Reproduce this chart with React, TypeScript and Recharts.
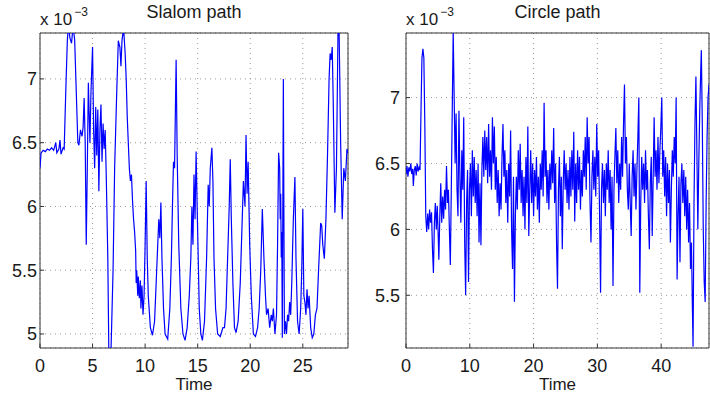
import { LineChart, Line, XAxis, YAxis, CartesianGrid, ReferenceArea } from 'recharts'

// time (s), value (x 1e-3)
const slalomPath: [number, number][] = [
  [0, 6.3], [0.1, 6.42], [0.3, 6.44], [0.5, 6.43], [0.7, 6.45], [0.9, 6.44], [1.1, 6.46], [1.3, 6.44],
  [1.5, 6.5], [1.6, 6.42], [1.8, 6.45], [1.9, 6.52], [2.0, 6.41], [2.2, 6.46], [2.3, 6.45], [2.45, 6.9],
  [2.6, 7.3], [2.7, 7.42], [2.85, 7.32], [3.0, 7.28], [3.15, 7.42], [3.3, 7.3], [3.45, 6.9], [3.6, 6.5],
  [3.7, 6.48], [3.85, 6.6], [4.0, 6.55], [4.1, 6.62], [4.2, 6.85], [4.3, 6.5], [4.4, 5.7], [4.5, 6.3],
  [4.6, 6.97], [4.75, 6.5], [4.85, 6.9], [5.0, 7.25], [5.1, 6.6], [5.2, 6.3], [5.3, 6.78], [5.4, 6.4],
  [5.5, 6.76], [5.6, 6.12], [5.7, 6.6], [5.8, 6.8], [5.9, 6.35], [6.0, 6.65], [6.1, 6.45], [6.2, 6.6],
  [6.3, 6.25], [6.45, 5.6], [6.55, 4.85], [6.75, 4.85], [6.95, 5.5], [7.1, 6.3], [7.3, 6.9], [7.45, 7.3],
  [7.6, 7.25], [7.7, 7.1], [7.8, 7.3], [7.95, 7.4], [8.1, 7.2], [8.2, 7.0], [8.3, 6.7], [8.4, 6.5],
  [8.5, 6.3], [8.6, 6.2], [8.7, 6.25], [8.8, 6.05], [8.9, 5.9], [9.0, 5.8], [9.1, 5.65], [9.15, 5.4],
  [9.2, 5.5], [9.3, 5.3], [9.35, 5.45], [9.45, 5.28], [9.55, 5.42], [9.6, 5.2], [9.7, 5.38], [9.8, 5.15],
  [9.9, 5.3], [10.0, 5.7], [10.1, 6.2], [10.2, 5.6], [10.3, 5.3], [10.5, 5.05], [10.7, 4.99], [10.9, 5.1],
  [11.1, 5.5], [11.3, 5.9], [11.4, 5.75], [11.5, 6.03], [11.6, 5.6], [11.75, 5.2], [11.9, 5.0], [12.15, 4.96],
  [12.35, 5.2], [12.5, 5.6], [12.6, 6.0], [12.7, 6.35], [12.8, 6.3], [12.95, 7.15], [13.05, 6.4], [13.2, 5.7],
  [13.4, 5.2], [13.6, 5.0], [13.8, 4.95], [14.0, 5.05], [14.2, 5.3], [14.35, 5.6], [14.45, 6.0], [14.55, 5.7],
  [14.65, 6.25], [14.75, 5.9], [14.85, 6.43], [14.95, 6.0], [15.05, 5.6], [15.15, 5.2], [15.3, 5.0], [15.45, 4.95],
  [15.65, 5.1], [15.85, 5.6], [16.0, 6.17], [16.1, 6.0], [16.2, 6.3], [16.35, 6.46], [16.45, 6.2], [16.55, 5.6],
  [16.7, 5.2], [16.9, 5.0], [17.15, 4.98], [17.4, 5.05], [17.55, 5.05], [17.7, 5.2], [17.85, 5.6], [18.0, 6.0],
  [18.1, 6.37], [18.2, 5.9], [18.35, 5.4], [18.5, 5.05], [18.65, 5.01], [18.85, 5.1], [19.05, 5.4], [19.2, 5.8],
  [19.35, 6.2], [19.5, 6.0], [19.6, 6.56], [19.7, 6.1], [19.8, 6.35], [19.95, 5.7], [20.1, 5.3], [20.3, 5.0],
  [20.5, 4.98], [20.7, 5.05], [20.85, 5.2], [21.0, 5.5], [21.15, 5.98], [21.3, 5.6], [21.45, 5.3], [21.55, 5.15],
  [21.7, 5.2], [21.85, 5.05], [22.0, 5.15], [22.1, 5.1], [22.2, 5.2], [22.35, 5.0], [22.5, 5.15], [22.6, 5.7],
  [22.7, 6.42], [22.8, 6.3], [22.85, 5.9], [22.9, 6.1], [22.95, 5.6], [23.0, 5.8], [23.05, 4.97], [23.15, 7.0],
  [23.25, 5.0], [23.35, 5.1], [23.45, 5.0], [23.55, 5.15], [23.65, 5.1], [23.75, 5.25], [23.85, 5.15], [23.95, 5.4],
  [24.1, 5.9], [24.25, 6.23], [24.35, 5.6], [24.5, 5.1], [24.65, 5.0], [24.8, 5.2], [24.9, 5.5], [25.0, 5.98],
  [25.1, 5.3], [25.2, 5.25], [25.3, 5.15], [25.4, 5.35], [25.5, 5.2], [25.6, 5.3], [25.75, 5.05], [25.9, 4.97],
  [26.05, 5.0], [26.2, 5.15], [26.35, 5.2], [26.5, 5.5], [26.7, 5.87], [26.8, 5.85], [26.9, 5.7], [27.05, 5.59],
  [27.2, 5.9], [27.35, 6.4], [27.5, 7.0], [27.6, 7.2], [27.7, 7.15], [27.8, 7.25], [27.9, 6.8], [28.05, 5.95],
  [28.2, 6.3], [28.35, 7.38], [28.45, 7.4], [28.6, 6.5], [28.75, 5.9], [28.9, 6.3], [29.05, 6.2], [29.2, 6.45],
  [29.3, 6.42],
]

const circlePath: [number, number][] = [
  [0, 6.42], [0.15, 6.48], [0.3, 6.4], [0.45, 6.47], [0.6, 6.44], [0.75, 6.5], [0.9, 6.42], [1.05, 6.46],
  [1.15, 6.33], [1.3, 6.45], [1.45, 6.48], [1.6, 6.41], [1.75, 6.5], [1.9, 6.44], [2.05, 6.47], [2.2, 6.45],
  [2.35, 6.9], [2.5, 7.3], [2.65, 7.37], [2.8, 7.3], [2.95, 6.8], [3.1, 6.1], [3.25, 5.98], [3.4, 6.12],
  [3.55, 6.0], [3.7, 6.15], [3.85, 6.05], [4.0, 6.13], [4.15, 5.85], [4.3, 5.67], [4.45, 6.05], [4.6, 6.2],
  [4.75, 6.0], [4.9, 6.18], [5.05, 5.95], [5.15, 5.77], [5.3, 6.1], [5.45, 6.35], [5.6, 6.05], [5.75, 6.25],
  [5.9, 6.08], [6.05, 6.3], [6.2, 6.15], [6.35, 6.48], [6.5, 6.2], [6.65, 6.3], [6.8, 6.0], [6.95, 5.73],
  [7.1, 6.3], [7.25, 6.9], [7.4, 7.5], [7.55, 7.0], [7.7, 6.5], [7.85, 6.88], [8.0, 6.3], [8.15, 6.1],
  [8.3, 6.9], [8.45, 6.4], [8.6, 6.05], [8.75, 6.6], [8.9, 6.3], [9.05, 6.85], [9.2, 5.9], [9.35, 5.5],
  [9.5, 6.2], [9.65, 6.45], [9.8, 5.6], [9.95, 6.3], [10.1, 6.5], [10.25, 6.1], [10.4, 6.6], [10.55, 6.25],
  [10.7, 6.55], [10.85, 6.2], [11.0, 6.45], [11.15, 6.1], [11.3, 6.5], [11.45, 5.9], [11.6, 6.35], [11.75, 5.88],
  [11.9, 6.45], [12.05, 6.7], [12.2, 6.4], [12.35, 6.75], [12.5, 6.45], [12.65, 6.7], [12.8, 6.35], [12.95, 6.8],
  [13.1, 6.4], [13.25, 6.6], [13.4, 6.3], [13.55, 6.85], [13.7, 6.5], [13.85, 6.78], [14.0, 6.3], [14.15, 6.55],
  [14.3, 6.2], [14.45, 6.45], [14.6, 6.1], [14.75, 6.35], [14.9, 6.15], [15.05, 6.55], [15.2, 6.8], [15.35, 6.4],
  [15.5, 6.6], [15.65, 6.2], [15.8, 6.45], [15.95, 6.05], [16.1, 6.5], [16.25, 6.25], [16.4, 6.75], [16.55, 6.0],
  [16.7, 5.7], [16.85, 6.4], [17.0, 5.45], [17.15, 6.1], [17.3, 6.4], [17.45, 6.15], [17.6, 6.6], [17.75, 6.3],
  [17.9, 6.65], [18.05, 6.2], [18.2, 6.45], [18.35, 6.1], [18.5, 6.4], [18.65, 6.0], [18.8, 6.55], [18.95, 6.2],
  [19.1, 6.78], [19.25, 5.95], [19.4, 6.3], [19.55, 6.6], [19.7, 6.2], [19.85, 6.5], [20.0, 6.1], [20.15, 6.45],
  [20.3, 6.25], [20.45, 6.55], [20.6, 6.15], [20.75, 6.4], [20.9, 6.05], [21.05, 6.5], [21.2, 6.3], [21.35, 6.6],
  [21.5, 6.25], [21.65, 6.96], [21.8, 6.4], [21.95, 6.6], [22.1, 6.2], [22.25, 6.45], [22.4, 6.15], [22.55, 6.5],
  [22.7, 6.3], [22.85, 6.6], [23.0, 6.35], [23.15, 6.77], [23.3, 6.2], [23.45, 6.5], [23.6, 5.9], [23.75, 5.55],
  [23.9, 6.3], [24.05, 6.55], [24.2, 6.1], [24.35, 6.4], [24.5, 5.85], [24.65, 6.35], [24.8, 6.6], [24.95, 6.3],
  [25.1, 6.5], [25.25, 6.2], [25.4, 6.45], [25.55, 6.15], [25.7, 6.55], [25.85, 6.25], [26.0, 6.6], [26.15, 6.3],
  [26.3, 6.74], [26.45, 6.06], [26.6, 6.5], [26.75, 6.2], [26.9, 6.6], [27.05, 6.3], [27.2, 6.55], [27.35, 6.15],
  [27.5, 6.45], [27.65, 6.25], [27.8, 6.6], [27.95, 6.4], [28.1, 6.7], [28.25, 6.3], [28.4, 6.85], [28.55, 6.5],
  [28.7, 6.7], [28.85, 6.2], [29.0, 5.9], [29.15, 6.4], [29.3, 6.6], [29.45, 6.3], [29.6, 6.55], [29.75, 6.25],
  [29.9, 6.8], [30.05, 6.4], [30.2, 6.6], [30.35, 6.1], [30.5, 5.52], [30.65, 6.3], [30.8, 6.5], [30.95, 6.2],
  [31.1, 6.45], [31.25, 6.1], [31.4, 6.5], [31.55, 6.3], [31.7, 6.6], [31.85, 6.2], [32.0, 6.45], [32.15, 6.0],
  [32.3, 6.4], [32.45, 5.57], [32.6, 6.3], [32.75, 6.55], [32.9, 6.77], [33.05, 6.35], [33.2, 6.6], [33.35, 6.2],
  [33.5, 6.5], [33.65, 6.3], [33.8, 6.7], [33.95, 6.4], [34.1, 6.8], [34.25, 7.1], [34.4, 6.5], [34.55, 6.7],
  [34.7, 6.3], [34.85, 6.15], [35.0, 6.5], [35.15, 6.2], [35.3, 5.95], [35.45, 6.4], [35.6, 6.6], [35.75, 6.25],
  [35.9, 6.5], [36.05, 6.15], [36.2, 6.45], [36.35, 6.7], [36.5, 7.0], [36.65, 5.52], [36.8, 6.2], [36.95, 6.55],
  [37.1, 6.3], [37.25, 6.5], [37.4, 6.2], [37.55, 6.6], [37.7, 6.3], [37.85, 6.45], [38.0, 6.1], [38.15, 5.85],
  [38.3, 6.35], [38.45, 6.55], [38.6, 5.95], [38.75, 6.4], [38.9, 6.85], [39.05, 6.4], [39.2, 6.6], [39.35, 6.3],
  [39.5, 6.7], [39.65, 6.35], [39.8, 6.6], [39.95, 6.77], [40.1, 7.0], [40.25, 6.4], [40.4, 6.6], [40.55, 6.25],
  [40.7, 6.55], [40.85, 6.1], [41.0, 6.5], [41.15, 6.2], [41.3, 6.45], [41.45, 5.9], [41.6, 6.3], [41.75, 6.6],
  [41.9, 6.4], [42.05, 6.7], [42.2, 6.5], [42.35, 7.0], [42.5, 5.62], [42.65, 6.1], [42.8, 6.4], [42.95, 5.75],
  [43.1, 6.35], [43.25, 6.5], [43.4, 6.2], [43.55, 6.45], [43.7, 6.1], [43.85, 6.4], [44.0, 6.0], [44.15, 6.3],
  [44.3, 5.9], [44.45, 6.2], [44.6, 5.7], [44.75, 5.9], [44.9, 5.4], [45.0, 5.11], [45.15, 6.2], [45.3, 6.8],
  [45.45, 7.16], [45.6, 6.6], [45.75, 6.0], [45.9, 6.5], [46.05, 6.9], [46.2, 7.2], [46.3, 7.36], [46.45, 6.8],
  [46.6, 6.0], [46.75, 5.6], [46.9, 5.45], [47.05, 6.2], [47.2, 6.7], [47.35, 7.0], [47.5, 7.1],
]

const slalomXTicks = [0, 5, 10, 15, 20, 25]
const circleXTicks = [0, 10, 20, 30, 40]
const slalomYTicks = [5, 5.5, 6, 6.5, 7]
const circleYTicks = [5.5, 6, 6.5, 7]

const font = '"Liberation Sans", Arial, Helvetica, sans-serif'
const ink = '#1a1a1a'

type PanelProps = {
  title: string
  points: [number, number][]
  xTicks: number[]
  yTicks: number[]
  xMax: number
  yMin: number
  yMax: number
  left: number
  width: number
  axisWidth: number
  rightGap: number
  yTickGap: number
}

function Panel({ title, points, xTicks, yTicks, xMax, yMin, yMax, left, width, axisWidth, rightGap, yTickGap }: PanelProps) {
  const rows = points.map(([t, v]) => ({ t, v }))
  const plotWidth = width - axisWidth - rightGap
  const tickStyle = { fill: ink, fontSize: 18, fontFamily: font }

  return (
    <div style={{ position: 'absolute', left, top: 0, width, height: 398 }}>
      <LineChart width={width} height={398} data={rows} margin={{ top: 33, right: rightGap, bottom: 8, left: 0 }}>
        <CartesianGrid stroke="#9a9a9a" strokeDasharray="1 4" />
        <XAxis
          dataKey="t"
          type="number"
          domain={[0, xMax]}
          ticks={xTicks}
          interval={0}
          allowDataOverflow
          axisLine={false}
          tickSize={-4}
          tickMargin={15}
          tickLine={{ stroke: '#333' }}
          tick={tickStyle}
          height={42}
          label={{ value: 'Time', position: 'insideBottom', offset: 0, fill: ink, fontSize: 17, fontFamily: font }}
        />
        <YAxis
          type="number"
          domain={[yMin, yMax]}
          ticks={yTicks}
          interval={0}
          allowDataOverflow
          axisLine={false}
          tickSize={-4}
          tickMargin={yTickGap}
          tickLine={{ stroke: '#333' }}
          tick={tickStyle}
          width={axisWidth}
        />
        <Line type="linear" dataKey="v" stroke="#0000ff" strokeWidth={1.2} dot={false} isAnimationActive={false} />
        <ReferenceArea x1={0} x2={xMax} y1={yMin} y2={yMax} fill="none" stroke="#333" strokeWidth={1} ifOverflow="visible" />
      </LineChart>
      <div
        style={{
          position: 'absolute', left: axisWidth, top: 2, width: plotWidth, textAlign: 'center',
          fontFamily: font, fontSize: 18, lineHeight: '20px', color: ink,
        }}
      >
        {title}
      </div>
      <div
        style={{
          position: 'absolute', left: axisWidth, top: 11, fontFamily: font, fontSize: 17,
          lineHeight: '17px', color: ink, whiteSpace: 'nowrap',
        }}
      >
        x 10<span style={{ position: 'relative', top: -9, fontSize: 12, marginLeft: 2 }}>−3</span>
      </div>
    </div>
  )
}

export default function App() {
  return (
    <div style={{ position: 'absolute', left: 0, top: 0, width: 710, height: 398, background: '#fff', overflow: 'hidden' }}>
      <Panel
        title="Slalom path"
        points={slalomPath}
        xTicks={slalomXTicks}
        yTicks={slalomYTicks}
        xMax={29.3}
        yMin={4.89}
        yMax={7.36}
        left={0}
        width={360}
        axisWidth={40}
        rightGap={12}
        yTickGap={7}
      />
      <Panel
        title="Circle path"
        points={circlePath}
        xTicks={circleXTicks}
        yTicks={circleYTicks}
        xMax={47.5}
        yMin={5.1}
        yMax={7.49}
        left={360}
        width={350}
        axisWidth={46}
        rightGap={1}
        yTickGap={10}
      />
    </div>
  )
}
